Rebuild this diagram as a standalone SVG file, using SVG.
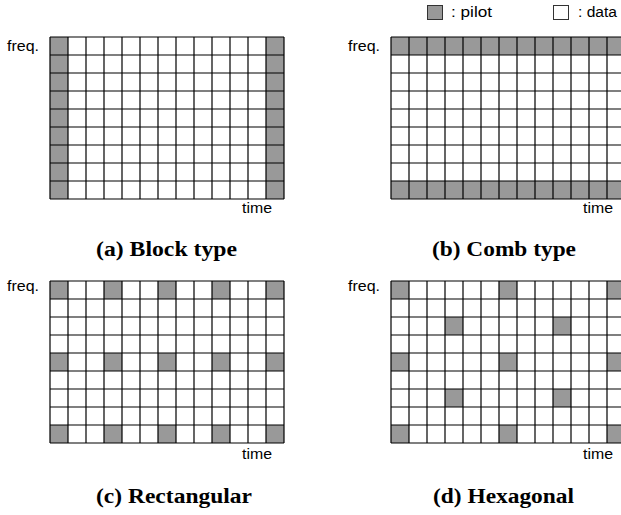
<svg xmlns="http://www.w3.org/2000/svg" xmlns:xlink="http://www.w3.org/1999/xlink" width="621" height="515" viewBox="0 0 621 515">
<style>
.bg{fill:#fff}
.p{fill:#999}
.gl{fill:none;stroke:#000;stroke-width:1.2}
.lbl{font-family:"Liberation Sans",Arial,sans-serif;font-size:14px;fill:#000}
.cap{font-family:"Liberation Serif","Times New Roman",serif;font-size:20px;font-weight:bold;fill:#000}
.lg{stroke:#333;stroke-width:1}
</style>
<defs>
<path id="grid" class="gl" d="M0 0V162M18 0V162M36 0V162M54 0V162M72 0V162M90 0V162M108 0V162M126 0V162M144 0V162M162 0V162M180 0V162M198 0V162M216 0V162M234 0V162M0 0H234M0 18H234M0 36H234M0 54H234M0 72H234M0 90H234M0 108H234M0 126H234M0 144H234M0 162H234"/>
<rect id="pc" class="p" width="18" height="18"/>
</defs>
<g id="legend">
<rect class="p lg" x="427.5" y="5.5" width="15" height="14"/>
<text class="lbl" x="451" y="17" textLength="41" lengthAdjust="spacingAndGlyphs">: pilot</text>
<rect class="bg lg" x="553.5" y="5.5" width="15" height="14"/>
<text class="lbl" x="578" y="17" textLength="39" lengthAdjust="spacingAndGlyphs">: data</text>
</g>
<g id="grid-a">
<rect class="bg" x="50" y="37" width="234" height="162"/>
<use href="#pc" x="50" y="37"/><use href="#pc" x="50" y="55"/><use href="#pc" x="50" y="73"/><use href="#pc" x="50" y="91"/><use href="#pc" x="50" y="109"/><use href="#pc" x="50" y="127"/><use href="#pc" x="50" y="145"/><use href="#pc" x="50" y="163"/><use href="#pc" x="50" y="181"/>
<use href="#pc" x="266" y="37"/><use href="#pc" x="266" y="55"/><use href="#pc" x="266" y="73"/><use href="#pc" x="266" y="91"/><use href="#pc" x="266" y="109"/><use href="#pc" x="266" y="127"/><use href="#pc" x="266" y="145"/><use href="#pc" x="266" y="163"/><use href="#pc" x="266" y="181"/>
<use href="#grid" x="50" y="37"/>
<text class="lbl" x="7" y="51" textLength="32" lengthAdjust="spacingAndGlyphs">freq.</text>
<text class="lbl" x="242" y="213" textLength="30" lengthAdjust="spacingAndGlyphs">time</text>
<text class="cap" x="96" y="256" textLength="141" lengthAdjust="spacingAndGlyphs">(a) Block type</text>
</g>
<g id="grid-b">
<rect class="bg" x="391" y="37" width="234" height="162"/>
<use href="#pc" x="391" y="37"/><use href="#pc" x="409" y="37"/><use href="#pc" x="427" y="37"/><use href="#pc" x="445" y="37"/><use href="#pc" x="463" y="37"/><use href="#pc" x="481" y="37"/><use href="#pc" x="499" y="37"/><use href="#pc" x="517" y="37"/><use href="#pc" x="535" y="37"/><use href="#pc" x="553" y="37"/><use href="#pc" x="571" y="37"/><use href="#pc" x="589" y="37"/><use href="#pc" x="607" y="37"/>
<use href="#pc" x="391" y="181"/><use href="#pc" x="409" y="181"/><use href="#pc" x="427" y="181"/><use href="#pc" x="445" y="181"/><use href="#pc" x="463" y="181"/><use href="#pc" x="481" y="181"/><use href="#pc" x="499" y="181"/><use href="#pc" x="517" y="181"/><use href="#pc" x="535" y="181"/><use href="#pc" x="553" y="181"/><use href="#pc" x="571" y="181"/><use href="#pc" x="589" y="181"/><use href="#pc" x="607" y="181"/>
<use href="#grid" x="391" y="37"/>
<text class="lbl" x="348" y="51" textLength="32" lengthAdjust="spacingAndGlyphs">freq.</text>
<text class="lbl" x="583" y="213" textLength="30" lengthAdjust="spacingAndGlyphs">time</text>
<text class="cap" x="432" y="256" textLength="144" lengthAdjust="spacingAndGlyphs">(b) Comb type</text>
</g>
<g id="grid-c">
<rect class="bg" x="50" y="281" width="234" height="162"/>
<use href="#pc" x="50" y="281"/><use href="#pc" x="104" y="281"/><use href="#pc" x="158" y="281"/><use href="#pc" x="212" y="281"/><use href="#pc" x="266" y="281"/>
<use href="#pc" x="50" y="353"/><use href="#pc" x="104" y="353"/><use href="#pc" x="158" y="353"/><use href="#pc" x="212" y="353"/><use href="#pc" x="266" y="353"/>
<use href="#pc" x="50" y="425"/><use href="#pc" x="104" y="425"/><use href="#pc" x="158" y="425"/><use href="#pc" x="212" y="425"/><use href="#pc" x="266" y="425"/>
<use href="#grid" x="50" y="281"/>
<text class="lbl" x="7" y="291" textLength="32" lengthAdjust="spacingAndGlyphs">freq.</text>
<text class="lbl" x="242" y="459" textLength="30" lengthAdjust="spacingAndGlyphs">time</text>
<text class="cap" x="96" y="503" textLength="156" lengthAdjust="spacingAndGlyphs">(c) Rectangular</text>
</g>
<g id="grid-d">
<rect class="bg" x="391" y="281" width="234" height="162"/>
<use href="#pc" x="391" y="281"/><use href="#pc" x="499" y="281"/><use href="#pc" x="607" y="281"/>
<use href="#pc" x="445" y="317"/><use href="#pc" x="553" y="317"/>
<use href="#pc" x="391" y="353"/><use href="#pc" x="499" y="353"/><use href="#pc" x="607" y="353"/>
<use href="#pc" x="445" y="389"/><use href="#pc" x="553" y="389"/>
<use href="#pc" x="391" y="425"/><use href="#pc" x="499" y="425"/><use href="#pc" x="607" y="425"/>
<use href="#grid" x="391" y="281"/>
<text class="lbl" x="348" y="291" textLength="32" lengthAdjust="spacingAndGlyphs">freq.</text>
<text class="lbl" x="583" y="459" textLength="30" lengthAdjust="spacingAndGlyphs">time</text>
<text class="cap" x="433" y="503" textLength="141" lengthAdjust="spacingAndGlyphs">(d) Hexagonal</text>
</g>
<g id="connectors"/>
</svg>
